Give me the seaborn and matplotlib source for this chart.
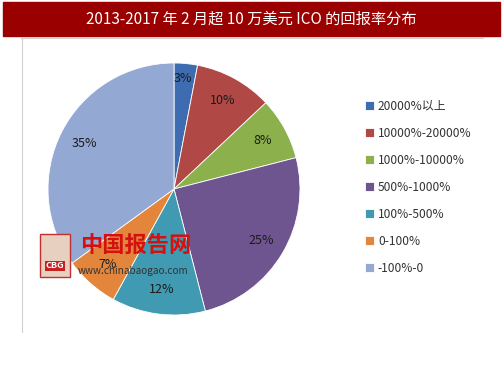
import matplotlib
matplotlib.use("Agg")
import matplotlib.pyplot as plt
import seaborn as sns
from matplotlib.patches import Rectangle
from matplotlib.lines import Line2D

sns.set_theme(style="white")
plt.rcParams['font.family'] = ['Noto Sans CJK SC', 'DejaVu Sans']

title = "2013-2017 年 2 月超 10 万美元 ICO 的回报率分布"
categories = ["20000%以上", "10000%-20000%", "1000%-10000%", "500%-1000%",
              "100%-500%", "0-100%", "-100%-0"]
values = [3, 10, 8, 25, 12, 7, 35]
colors = ["#3D6DB0", "#B04845", "#8CB04C", "#6F5590", "#3F9AB2", "#E3853B", "#93A8D2"]

W, H = 503, 378
fig = plt.figure(figsize=(W / 100, H / 100), dpi=100)

# title bar
fig.patches.append(Rectangle((3 / W, 1 - 36 / H), 497 / W, 34 / H,
                             transform=fig.transFigure, color="#9B0000", zorder=0))
fig.text(251 / W, 1 - 19 / H, title, color="white", fontsize=11,
         ha="center", va="center")
# grey frame
fig.lines.append(Line2D([21 / W, 483 / W], [1 - 37.5 / H, 1 - 37.5 / H],
                        transform=fig.transFigure, color="#D0D0D0", lw=0.8))
fig.lines.append(Line2D([21.5 / W, 21.5 / W], [1 - 37.5 / H, 1 - 332 / H],
                        transform=fig.transFigure, color="#D0D0D0", lw=0.8))

cx, cy, r = 174, 189, 126
ax = fig.add_axes([(cx - r) / W, (H - cy - r) / H, 2 * r / W, 2 * r / H])
wedges, texts, autotexts = ax.pie(
    values, colors=colors, startangle=90, counterclock=False,
    autopct=lambda p: f"{p:.0f}%", pctdistance=0.8,
    wedgeprops=dict(linewidth=0.6, edgecolor="white"),
    textprops=dict(fontsize=9, color="#1a1a1a"))
autotexts[0].set_position((0.07, 0.88))
ax.set_xlim(-1, 1)
ax.set_ylim(-1, 1)
ax.set_aspect("equal")
ax.axis("off")

ax.legend(wedges, categories, loc="upper left",
          bbox_to_anchor=((360 - (cx - r)) / (2 * r), 1 - (95 - (cy - r)) / (2 * r)),
          frameon=False, fontsize=8.6, handlelength=0.75, handleheight=0.75,
          handletextpad=0.35, labelspacing=1.17, borderaxespad=0,
          labelcolor="#333333")

# watermark
fig.patches.append(Rectangle((40 / W, 1 - 277 / H), 30 / W, 43 / H,
                             transform=fig.transFigure, facecolor="#E8D0C0",
                             edgecolor="#C03030", lw=1, zorder=5))
fig.text(55 / W, 1 - 266 / H, "CBG", color="white", fontsize=6.5, fontweight="bold",
         ha="center", va="center", zorder=6,
         bbox=dict(boxstyle="square,pad=0.1", fc="#C82020", ec="none"))
fig.text(80 / W, 1 - 246 / H, "中国报告网", color="#D41010", fontsize=16,
         fontweight="bold", ha="left", va="center", zorder=6)
fig.text(78 / W, 1 - 271 / H, "www.chinabaogao.com", color="#333333", fontsize=7.2,
         ha="left", va="center", zorder=6)

fig.savefig("out.png", dpi=100)
